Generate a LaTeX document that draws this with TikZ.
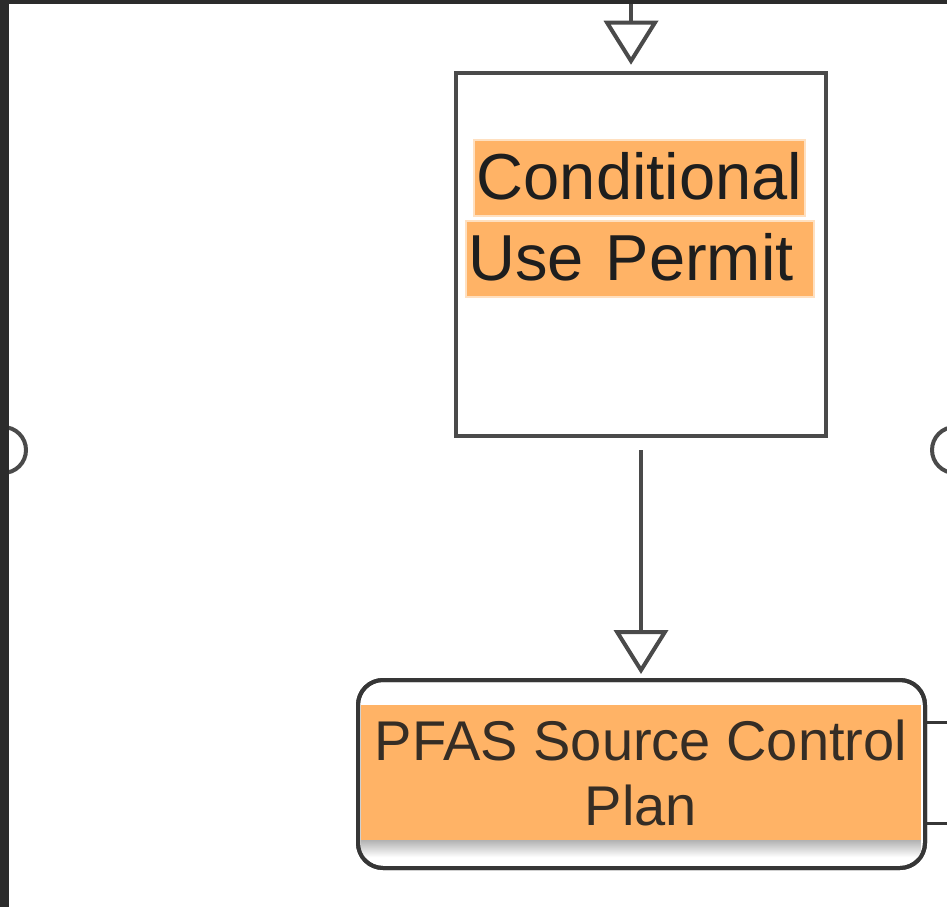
\documentclass[tikz,border=0pt]{standalone}
\usepackage{fontspec}
\setmainfont{Liberation Sans}
\definecolor{frame grey}{HTML}{2B2B2B}
\definecolor{box grey}{HTML}{4A4A4A}
\definecolor{edge grey}{HTML}{363636}
\definecolor{mark orange}{HTML}{FFB366}
\definecolor{mark rim}{HTML}{FFE0C0}
\definecolor{text dark}{HTML}{1E1E1E}
\usetikzlibrary{arrows.meta,positioning,shapes}
\tikzstyle{line} = [line width=4pt, draw=box grey]
\tikzstyle{line>} = [line,-{Triangle[open, length=44pt, width=54pt]}]
\tikzstyle{exit line} = [line width=3pt, draw=edge grey]
\tikzstyle{permit box}=[draw=box grey, line width=4.5pt, fill=white, minimum width=370pt, minimum height=363pt]
\tikzstyle{plan box}=[draw=edge grey, line width=4pt, fill=white, rounded corners=25pt, minimum width=567pt, minimum height=188pt]
\tikzstyle{mark line}=[fill=mark orange, draw=mark rim, line width=2pt, inner xsep=3pt, inner ysep=2pt, text=text dark, font=\fontsize{65}{76}\selectfont, text height=58pt, text depth=14pt]
\tikzstyle{plan band}=[fill=mark orange, inner sep=0pt, minimum width=560pt, minimum height=135pt, align=center, text=text dark!90!mark orange, font=\fontsize{56}{65}\selectfont]
\tikzstyle{port}=[circle, draw=box grey, line width=4pt, minimum size=46pt, inner sep=0pt]

\begin{document}
\begin{tikzpicture}[x=1pt,y=-1pt]
        \useasboundingbox (0,0) rectangle (947,907);
        \clip (0,0) rectangle (947,907);
        \fill[white] (0,0) rectangle (947,907);

        \node[permit box] (permit) at (641,254.5) {};
        \node[mark line] (cond) at (639.5,177.5) {Conditional};
        \node[mark line, text width=342pt, align=left, below=3pt of cond] (use) {Use Permit};

        \node[plan box] (plan) at (641.5,774) {};
        \node[plan band] (band) at (641,772.5) {PFAS Source Control\\Plan};
        \shade[top color=black!30, bottom color=white] (band.south west) rectangle ++(560,17);
        \node[plan box, fill=none] at (plan) {};

        \node[port] (port left) at (3,450) {};
        \node[port] (port right) at (955,450) {};

        \coordinate (feed) at (631,0);
        \coordinate (exit a) at (950,722);
        \coordinate (exit b) at (950,823);

        \draw[line>, shorten >=6pt] (feed) -- (feed |- permit.north);
        \draw[line>, shorten <=12pt, shorten >=4pt] (permit) -- (permit.south |- plan.north);
        \draw[exit line] (plan.east |- exit a) -- (exit a);
        \draw[exit line] (plan.east |- exit b) -- (exit b);

        \fill[frame grey] (0,0) rectangle (947,4);
        \fill[frame grey] (0,0) rectangle (9,907);
    \end{tikzpicture}
\end{document}
